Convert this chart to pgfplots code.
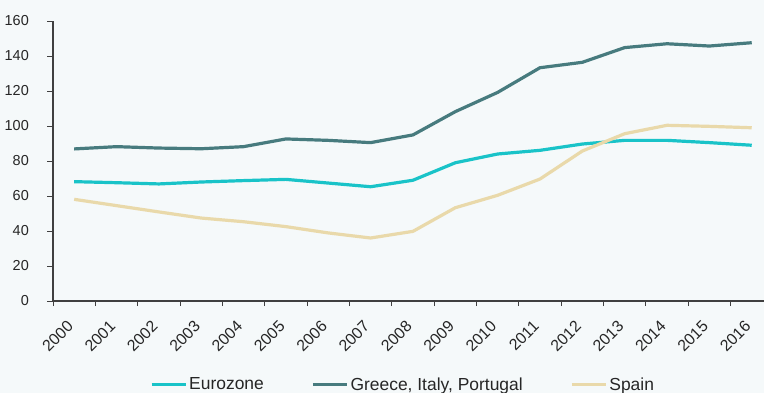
\documentclass[border=0pt]{standalone}
\usepackage{fontspec}
\setmainfont{Liberation Sans}
\usepackage{pgfplots}
\pgfplotsset{compat=1.18}
\definecolor{bg}{HTML}{F5F9FA}
\definecolor{euro}{HTML}{19C3C8}
\definecolor{gip}{HTML}{477B7E}
\definecolor{spain}{HTML}{E9D9AA}
\definecolor{axc}{HTML}{404040}
\definecolor{txt}{HTML}{262626}
\begin{document}
\begin{tikzpicture}
\fill[bg] (0,0) rectangle (764bp,-393bp);
\begin{axis}[
  at={(53bp,-301bp)}, anchor=south west,
  scale only axis, width=711bp, height=280bp,
  xmin=-0.5, xmax=16.29, ymin=0, ymax=160,
  axis lines*=left,
  axis line style={axc, line width=1.2bp, -},
  ytick={0,20,...,160},
  xtick={0,...,16},
  xticklabels={2000,2001,2002,2003,2004,2005,2006,2007,2008,2009,2010,2011,2012,2013,2014,2015,2016},
  minor xtick={-0.5,0.5,...,15.5},
  tick align=outside,
  major tick length=6bp, minor tick length=5bp,
  major x tick style={draw=none},
  minor x tick style={draw=axc, line width=1bp},
  y tick style={draw=axc, line width=1bp},
  /pgf/number format/assume math mode=true,
  tick label style={font=\fontsize{14.5}{15}\selectfont, color=txt},
  yticklabel style={anchor=east, inner sep=0pt, xshift=-18bp},
  xticklabel style={xshift=-8bp, yshift=-12.5bp, rotate=45, anchor=north east, inner sep=0pt, font=\fontsize{16}{16}\selectfont},
  legend columns=3,
  legend style={at={(0.132,-0.298)}, anchor=west, draw=none, fill=none,
    font=\fontsize{17.5}{18}\selectfont, text=txt,
    /tikz/every even column/.append style={column sep=45.5bp}},
  legend image code/.code={\draw[#1] (0bp,0bp) -- (34bp,0bp);},
  every axis plot/.append style={line width=3.2bp, line join=round},
]
\addplot[euro] coordinates {(0,68.2)(1,67.6)(2,66.9)(3,68.0)(4,68.8)(5,69.5)(6,67.4)(7,65.3)(8,69.0)(9,79.0)(10,84.0)(11,86.1)(12,89.7)(13,91.8)(14,91.8)(15,90.5)(16,89.0)};
\addlegendentry{Eurozone}
\addplot[gip] coordinates {(0,86.9)(1,88.2)(2,87.4)(3,87.0)(4,88.2)(5,92.6)(6,91.8)(7,90.5)(8,94.9)(9,108.2)(10,119.2)(11,133.3)(12,136.4)(13,144.8)(14,147.0)(15,145.7)(16,147.6)};
\addlegendentry{Greece, Italy, Portugal}
\addplot[spain] coordinates {(0,58.1)(1,54.5)(2,50.9)(3,47.4)(4,45.3)(5,42.5)(6,38.9)(7,36.0)(8,39.8)(9,53.3)(10,60.4)(11,69.7)(12,85.7)(13,95.6)(14,100.4)(15,99.8)(16,99.0)};
\addlegendentry{Spain}
\end{axis}
\pgfresetboundingbox
\path[use as bounding box] (0,0) rectangle (764bp,-393bp);
\end{tikzpicture}
\end{document}
